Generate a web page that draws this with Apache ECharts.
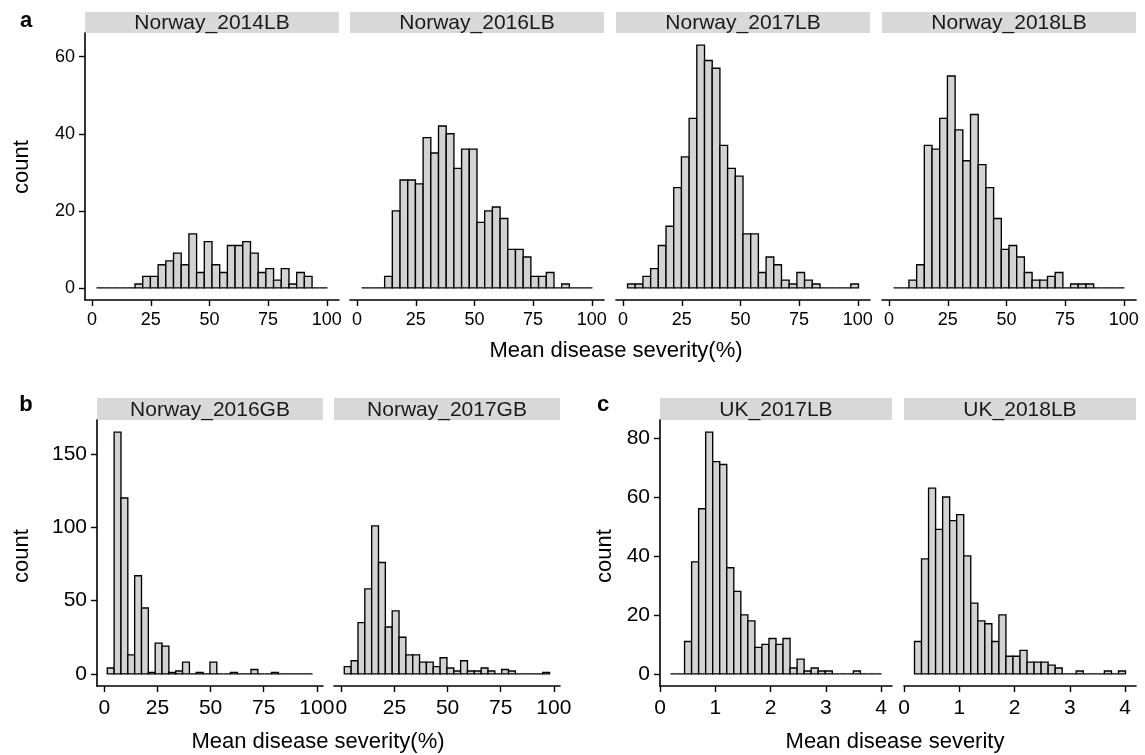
<!DOCTYPE html>
<html>
<head>
<meta charset="utf-8">
<script src="https://cdn.jsdelivr.net/npm/echarts@6/dist/echarts.min.js"></script>
<style>
html,body{margin:0;padding:0;background:#fff;}
#chart{width:1145px;height:755px;}
</style>
</head>
<body>
<div id="chart"></div>
<script>
// ---- data (bin counts, 30 bins each) ----
const panelNames = ["Norway_2014LB","Norway_2016LB","Norway_2017LB","Norway_2018LB","Norway_2016GB","Norway_2017GB","UK_2017LB","UK_2018LB"];
const norway2014LB = [0,0,0,0,0,1,3,3,6,7,9,6,14,4,12,6,4,11,11,12,9,4,5,2,5,1,4,3,0,0];
const norway2016LB = [0,0,0,3,20,28,28,27,39,35,42,40,31,36,36,17,20,21,18,10,10,8,3,3,4,0,1,0,0,0];
const norway2017LB = [1,1,3,5,11,16,26,34,44,63,59,57,37,31,29,14,14,4,8,6,2,1,4,2,1,0,0,0,0,1];
const norway2018LB = [0,0,2,6,37,36,44,55,41,33,45,32,26,18,10,11,8,4,2,2,3,4,0,1,1,1,0,0,0,0];
const norway2016GB = [4,165,120,13,67,45,1,21,19,1,2,8,0,1,0,8,0,0,1,0,0,3,0,0,1,0,0,0,0,0];
const norway2017GB = [5,9,35,58,101,76,32,43,25,13,13,8,8,5,11,4,2,9,2,2,4,2,0,3,2,0,0,0,0,1];
const uk2017LB = [0,0,11,38,56,82,72,71,36,28,20,18,9,10,12,10,12,2,5,1,2,1,1,0,0,0,1,0,0,0];
const uk2018LB = [11,39,63,49,60,52,54,40,24,18,17,11,20,6,6,8,4,4,4,3,2,0,0,1,0,0,0,1,0,1];
// bin start / width of each group (value units)
const binStartA = 1.9, binWidthA = 3.28;
const binStartB = 1.4, binWidthB = 3.22;
const binStartC = 0.19, binWidthC = 0.1273;
// tick labels
const xTicksPct = [0,25,50,75,100];
const xTicksSev = [0,1,2,3,4];
const yTicksA = [0,20,40,60];
const yTicksB = [0,50,100,150];
const yTicksC = [0,20,40,60,80];

// ---- layout ----
const FONT = "'Liberation Sans', Arial, Helvetica, sans-serif";
const groups = {
  a: {start: binStartA, width: binWidthA, xTicks: xTicksPct, yTicks: yTicksA, xMin: -3.02, xMax: 105.22, yMin: -3.15, yMax: 66.15, top: 33, height: 267, fs: 18, xMargin: 11, stripTop: 12, stripH: 21, stripTextY: 23.5},
  b: {start: binStartB, width: binWidthB, xTicks: xTicksPct, yTicks: yTicksB, xMin: -3.44, xMax: 102.9, yMin: -8.25, yMax: 173.25, top: 420, height: 266, fs: 21, xMargin: 12, stripTop: 398, stripH: 22, stripTextY: 410},
  c: {start: binStartC, width: binWidthC, xTicks: xTicksSev, yTicks: yTicksC, xMin: 0.0, xMax: 4.199, yMin: -4.1, yMax: 86.1, top: 420, height: 266, fs: 21, xMargin: 12, stripTop: 398, stripH: 22, stripTextY: 410}
};
const panels = [
  {name: panelNames[0], counts: norway2014LB, g: 'a', left: 85, width: 254, yAxis: true},
  {name: panelNames[1], counts: norway2016LB, g: 'a', left: 350, width: 254, yAxis: false},
  {name: panelNames[2], counts: norway2017LB, g: 'a', left: 616, width: 254, yAxis: false},
  {name: panelNames[3], counts: norway2018LB, g: 'a', left: 882, width: 254, yAxis: false},
  {name: panelNames[4], counts: norway2016GB, g: 'b', left: 97, width: 226, yAxis: true},
  {name: panelNames[5], counts: norway2017GB, g: 'b', left: 334, width: 226, yAxis: false},
  {name: panelNames[6], counts: uk2017LB, g: 'c', left: 660, width: 232, yAxis: true},
  {name: panelNames[7], counts: uk2018LB, g: 'c', left: 904, width: 232, yAxis: false}
];

function renderBin(params, api) {
  const x0 = api.value(0), x1 = api.value(1), c = api.value(2);
  const p0 = api.coord([x0, c]);
  const p1 = api.coord([x1, 0]);
  return {
    type: 'rect',
    shape: {x: p0[0], y: p0[1], width: p1[0] - p0[0], height: p1[1] - p0[1]},
    style: {fill: '#d3d3d3', stroke: '#000', lineWidth: 1.35}
  };
}

const grids = [], xAxes = [], yAxes = [], series = [], graphics = [];
panels.forEach((p, i) => {
  const g = groups[p.g];
  grids.push({left: p.left, top: g.top, width: p.width, height: g.height, containLabel: false, outerBoundsMode: 'none'});
  xAxes.push({
    type: 'value', gridIndex: i, min: g.xMin, max: g.xMax,
    axisLine: {show: true, onZero: false, lineStyle: {color: '#000', width: 1.6}},
    axisTick: {show: true, length: 6, customValues: g.xTicks, lineStyle: {color: '#000', width: 1.4}},
    axisLabel: {customValues: g.xTicks, fontSize: g.fs, color: '#000', margin: g.xMargin, fontFamily: FONT},
    splitLine: {show: false}
  });
  yAxes.push({
    type: 'value', gridIndex: i, min: g.yMin, max: g.yMax,
    axisLine: {show: p.yAxis, onZero: false, lineStyle: {color: '#000', width: 1.6}},
    axisTick: {show: p.yAxis, length: 6, customValues: g.yTicks, lineStyle: {color: '#000', width: 1.4}},
    axisLabel: {show: p.yAxis, customValues: g.yTicks, fontSize: g.fs, color: '#000', margin: 10, fontFamily: FONT},
    splitLine: {show: false}
  });
  series.push({
    type: 'custom', xAxisIndex: i, yAxisIndex: i, renderItem: renderBin, clip: false,
    data: p.counts.map((c, k) => [g.start + k * g.width, g.start + (k + 1) * g.width, c])
  });
  graphics.push({type: 'rect', shape: {x: p.left, y: g.stripTop, width: p.width, height: g.stripH}, style: {fill: '#d9d9d9'}, silent: true});
  graphics.push({type: 'text', x: p.left + p.width / 2, y: g.stripTextY, style: {text: p.name, fontSize: 21, fontFamily: FONT, fill: '#1a1a1a', align: 'center', verticalAlign: 'middle'}});
});

function txt(t, x, y, opts) {
  return {type: 'text', x: x, y: y, style: Object.assign({text: t, fontSize: 22, fontFamily: FONT, fill: '#000', align: 'center', verticalAlign: 'middle'}, opts || {})};
}
graphics.push(txt('a', 26, 21, {fontWeight: 'bold', fontSize: 22}));
graphics.push(txt('b', 26, 405, {fontWeight: 'bold', fontSize: 22}));
graphics.push(txt('c', 603, 405, {fontWeight: 'bold', fontSize: 22}));
graphics.push(txt('Mean disease severity(%)', 616, 351));
graphics.push(txt('Mean disease severity(%)', 318, 742));
graphics.push(txt('Mean disease severity', 895, 742));
graphics.push({type: 'text', x: 22, y: 167, rotation: Math.PI / 2, style: {text: 'count', fontSize: 22, fontFamily: FONT, fill: '#000', align: 'center', verticalAlign: 'middle'}});
graphics.push({type: 'text', x: 22, y: 556, rotation: Math.PI / 2, style: {text: 'count', fontSize: 22, fontFamily: FONT, fill: '#000', align: 'center', verticalAlign: 'middle'}});
graphics.push({type: 'text', x: 605, y: 556, rotation: Math.PI / 2, style: {text: 'count', fontSize: 22, fontFamily: FONT, fill: '#000', align: 'center', verticalAlign: 'middle'}});

const chart = echarts.init(document.getElementById('chart'), null, {renderer: 'canvas'});
chart.setOption({
  animation: false,
  backgroundColor: '#fff',
  grid: grids,
  xAxis: xAxes,
  yAxis: yAxes,
  series: series,
  graphic: graphics
});
</script>
</body>
</html>
